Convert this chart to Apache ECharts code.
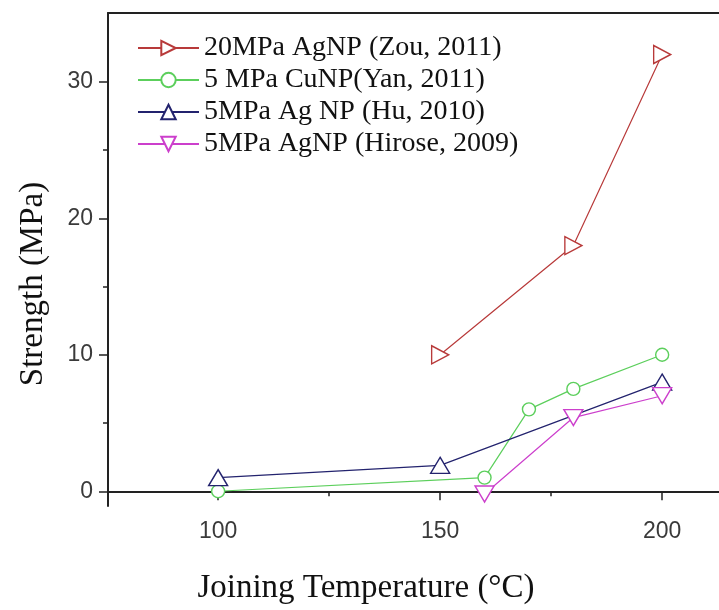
<!DOCTYPE html>
<html>
<head>
<meta charset="utf-8">
<script src="https://cdn.jsdelivr.net/npm/echarts@6/dist/echarts.min.js"></script>
<style>html,body{margin:0;padding:0;background:#fff;}#c{width:719px;height:610px;}</style>
</head>
<body>
<div id="c"></div>
<script>
// ---- data ----
const seriesNames = ['20MPa AgNP (Zou, 2011)', '5 MPa CuNP(Yan, 2011)', '5MPa Ag NP (Hu, 2010)', '5MPa AgNP (Hirose, 2009)'];
const zouTemp = [150, 180, 200];
const zouStrength = [10, 18, 32];
const yanTemp = [100, 160, 170, 180, 200];
const yanStrength = [0, 1, 6, 7.5, 10];
const huTemp = [100, 150, 200];
const huStrength = [1, 1.9, 8];
const hiroseTemp = [160, 180, 200];
const hiroseStrength = [-0.2, 5.4, 7];
const xMajorTicks = [100, 150, 200];
const xMinorTicks = [125, 175];
const yMajorTicks = [0, 10, 20, 30];
const yMinorTicks = [5, 15, 25];

const colors = ['#b83a3a', '#5ccf5c', '#23236e', '#cc3fcc'];
const pair = (xs, ys) => xs.map((x, i) => [x, ys[i]]);

const X_MIN = 75.2, X_MAX = 212.8, Y_MIN = -1.08, Y_MAX = 35.04;
const axisColor = '#222';
const tickFont = {fontFamily: 'Liberation Sans', fontSize: 23, color: '#3a3a3a'};

function mkSeries(i, xs, ys, symbol, size, rot) {
  return {
    type: 'line', name: seriesNames[i], data: pair(xs, ys),
    xAxisIndex: 0, yAxisIndex: 0,
    symbol: symbol, symbolSize: size, symbolRotate: rot, showAllSymbol: true,
    lineStyle: {color: colors[i], width: 1.2},
    itemStyle: {color: '#fff', borderColor: colors[i], borderWidth: 1.4},
    emphasis: {disabled: true}, animation: false
  };
}

const chart = echarts.init(document.getElementById('c'), null, {renderer: 'canvas'});
chart.setOption({
  animation: false,
  backgroundColor: '#fff',
  grid: {left: 108, top: 13, right: 0, bottom: 95, containLabel: false},
  legend: {
    orient: 'vertical', left: 132, top: 27, itemGap: 0,
    itemWidth: 61, itemHeight: 18,
    textStyle: {fontFamily: 'Liberation Serif', fontSize: 28, color: '#111', lineHeight: 32},
    data: seriesNames
  },
  xAxis: [
    {
      type: 'value', min: X_MIN, max: X_MAX, position: 'bottom',
      name: 'Joining Temperature (°C)', nameLocation: 'middle', nameGap: 66,
      nameTextStyle: {fontFamily: 'Liberation Serif', fontSize: 33, color: '#111', padding: [0, 95, 0, 0]},
      axisLine: {show: true, lineStyle: {color: axisColor, width: 2}},
      axisTick: {show: true, customValues: xMajorTicks, length: 9, lineStyle: {color: axisColor, width: 1.5}},
      axisLabel: {show: true, customValues: xMajorTicks, margin: 14, ...tickFont},
      splitLine: {show: false}
    },
    {
      type: 'value', min: X_MIN, max: X_MAX, position: 'bottom',
      axisLine: {show: false},
      axisTick: {show: true, customValues: xMinorTicks, length: 5, lineStyle: {color: axisColor, width: 1.5}},
      axisLabel: {show: false}, splitLine: {show: false}
    },
    {
      type: 'value', min: X_MIN, max: X_MAX, position: 'top',
      axisLine: {show: true, lineStyle: {color: axisColor, width: 2}},
      axisTick: {show: false}, axisLabel: {show: false}, splitLine: {show: false}
    }
  ],
  yAxis: [
    {
      type: 'value', min: Y_MIN, max: Y_MAX, position: 'left',
      name: 'Strength (MPa)', nameLocation: 'middle', nameGap: 58,
      nameTextStyle: {fontFamily: 'Liberation Serif', fontSize: 33, color: '#111', padding: [0, 49, 0, 0]},
      axisLine: {show: true, lineStyle: {color: axisColor, width: 2}},
      axisTick: {show: true, customValues: yMajorTicks, length: 9, lineStyle: {color: axisColor, width: 1.5}},
      axisLabel: {show: true, customValues: yMajorTicks, margin: 15, ...tickFont},
      splitLine: {show: false}
    },
    {
      type: 'value', min: Y_MIN, max: Y_MAX, position: 'left',
      axisLine: {show: false},
      axisTick: {show: true, customValues: yMinorTicks, length: 5, lineStyle: {color: axisColor, width: 1.5}},
      axisLabel: {show: false}, splitLine: {show: false}
    }
  ],
  series: [
    mkSeries(0, zouTemp, zouStrength, 'triangle', [18, 17], -90),
    mkSeries(1, yanTemp, yanStrength, 'circle', 13, 0),
    mkSeries(2, huTemp, huStrength, 'triangle', [19, 16], 0),
    mkSeries(3, hiroseTemp, hiroseStrength, 'triangle', [19, 16], 180)
  ]
});
</script>
</body>
</html>
